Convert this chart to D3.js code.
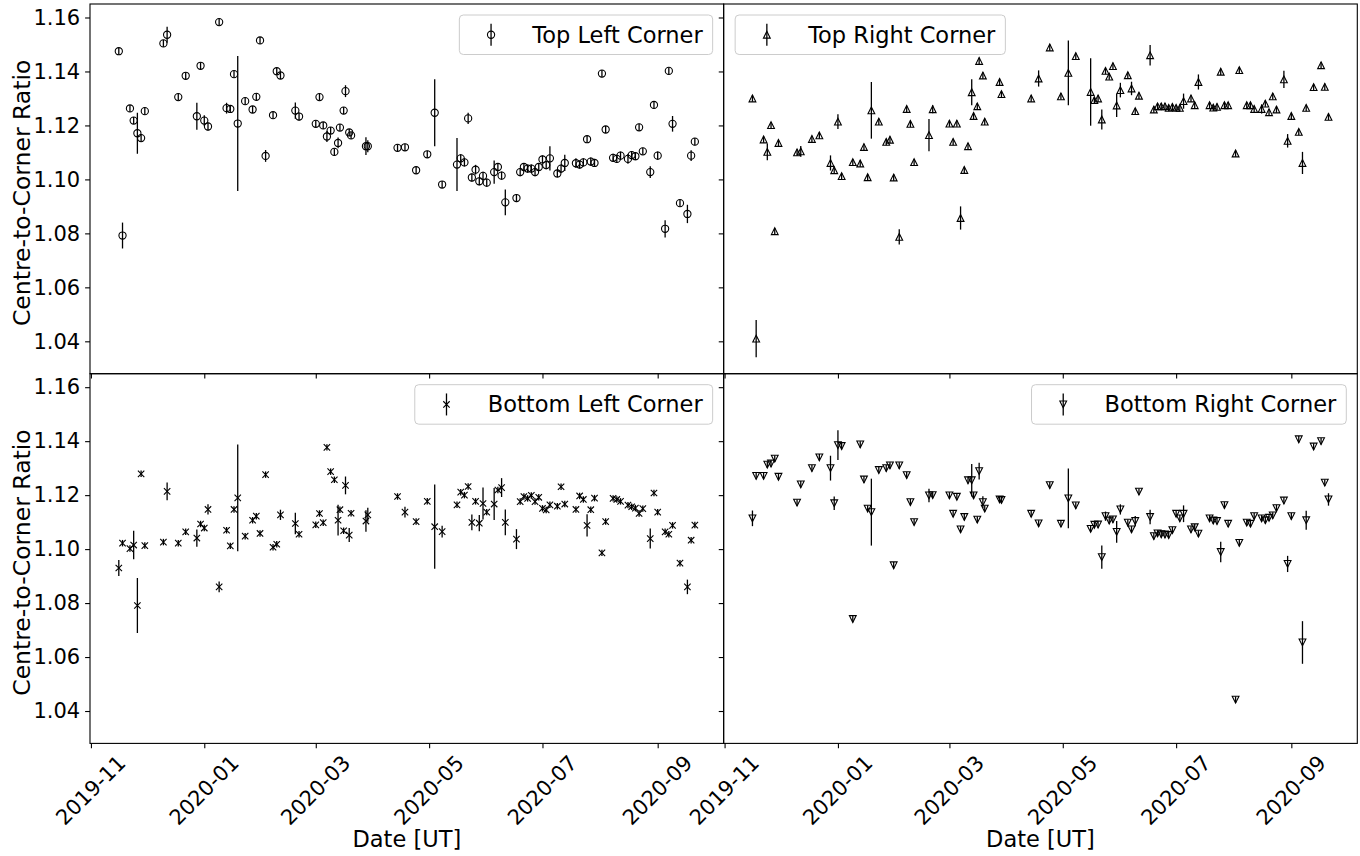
<!DOCTYPE html>
<html lang="en">
<head>
  <meta charset="UTF-8">
  <title>Centre-to-Corner Ratio</title>
  <style>
    body { margin: 0; background: #fff; }
    svg { display: block; font-family: "DejaVu Sans", sans-serif; }
  </style>
</head>
<body>
  <div id="chart"></div>

  <script src="https://d3js.org/d3.v7.min.js"></script>
  <script>
    // observation dates (shared by all four corners)
    const dates = [
      "2019-11-16", "2019-11-18", "2019-11-22", "2019-11-24", "2019-11-26", "2019-11-28", "2019-11-30", "2019-12-10", "2019-12-12", "2019-12-18",
      "2019-12-22", "2019-12-28", "2019-12-30", "2020-01-01", "2020-01-03", "2020-01-09", "2020-01-13", "2020-01-15", "2020-01-17", "2020-01-19",
      "2020-01-23", "2020-01-27", "2020-01-29", "2020-01-31", "2020-02-03", "2020-02-07", "2020-02-09", "2020-02-11", "2020-02-19", "2020-02-21",
      "2020-03-01", "2020-03-03", "2020-03-05", "2020-03-07", "2020-03-09", "2020-03-11", "2020-03-13", "2020-03-14", "2020-03-16", "2020-03-17",
      "2020-03-19", "2020-03-20", "2020-03-28", "2020-03-29", "2020-04-14", "2020-04-18", "2020-04-24", "2020-04-30", "2020-05-04", "2020-05-08",
      "2020-05-16", "2020-05-18", "2020-05-20", "2020-05-22", "2020-05-24", "2020-05-26", "2020-05-28", "2020-05-30", "2020-06-01", "2020-06-05",
      "2020-06-07", "2020-06-09", "2020-06-11", "2020-06-17", "2020-06-19", "2020-06-21", "2020-06-23", "2020-06-25", "2020-06-27", "2020-06-29",
      "2020-07-01", "2020-07-03", "2020-07-05", "2020-07-09", "2020-07-11", "2020-07-13", "2020-07-19", "2020-07-21", "2020-07-23", "2020-07-25",
      "2020-07-27", "2020-07-29", "2020-08-02", "2020-08-04", "2020-08-08", "2020-08-10", "2020-08-12", "2020-08-16", "2020-08-18", "2020-08-20",
      "2020-08-22", "2020-08-24", "2020-08-28", "2020-08-30", "2020-09-01", "2020-09-05", "2020-09-07", "2020-09-09", "2020-09-13", "2020-09-17",
      "2020-09-19", "2020-09-21"
    ];

    const topLeft = [
      1.1475, 1.0792, 1.1263, 1.1218, 1.1171, 1.1153, 1.1253, 1.1504, 1.1536, 1.1305,
      1.1384, 1.1234, 1.1421, 1.1218, 1.1196, 1.1583, 1.1264, 1.1261, 1.1390, 1.1207,
      1.1290, 1.1259, 1.1306, 1.1515, 1.1087, 1.1238, 1.1401, 1.1385, 1.1255, 1.1233,
      1.1206, 1.1305, 1.1200, 1.1159, 1.1181, 1.1102, 1.1135, 1.1192, 1.1255, 1.1327,
      1.1174, 1.1163, 1.1123, 1.1123, 1.1117, 1.1119, 1.1034, 1.1093, 1.1247, 1.0981,
      1.1055, 1.1078, 1.1063, 1.1226, 1.1007, 1.1036, 1.0993, 1.1013, 1.0988, 1.1027,
      1.1046, 1.1014, 1.0915, 1.0931, 1.1027, 1.1046, 1.1040, 1.1040, 1.1027, 1.1046,
      1.1074, 1.1053, 1.1078, 1.1022, 1.1040, 1.1061, 1.1060, 1.1055, 1.1063, 1.1149,
      1.1066, 1.1061, 1.1392, 1.1185, 1.1080, 1.1076, 1.1088, 1.1076, 1.1090, 1.1086,
      1.1193, 1.1104, 1.1027, 1.1276, 1.1088, 1.0817, 1.1402, 1.1206, 1.0912, 1.0872,
      1.1088, 1.1140
    ];
    const topLeftErr = [
      .0013, .0048, .0013, .0013, .0076, .0013, .0013, .0013, .0030, .0013,
      .0013, .0050, .0013, .0020, .0015, .0013, .0020, .0013, .0013, .0250,
      .0013, .0013, .0013, .0013, .0022, .0013, .0013, .0013, .0030, .0015,
      .0013, .0013, .0013, .0020, .0013, .0013, .0020, .0013, .0013, .0022,
      .0013, .0013, .0033, .0022, .0013, .0013, .0013, .0013, .0124, .0013,
      .0098, .0015, .0015, .0021, .0015, .0018, .0015, .0015, .0015, .0043,
      .0015, .0015, .0048, .0015, .0015, .0015, .0015, .0015, .0015, .0015,
      .0015, .0015, .0045, .0015, .0015, .0030, .0018, .0015, .0015, .0013,
      .0015, .0015, .0013, .0013, .0015, .0015, .0015, .0018, .0015, .0015,
      .0013, .0013, .0022, .0013, .0015, .0032, .0013, .0029, .0013, .0034,
      .0020, .0013
    ];

    const topRight = [
      1.1300, 1.0410, 1.1148, 1.1102, 1.1201, 1.0808, 1.1135, 1.1100, 1.1104, 1.1150,
      1.1163, 1.1061, 1.1034, 1.1214, 1.1012, 1.1064, 1.1059, 1.1120, 1.1008, 1.1256,
      1.1214, 1.1139, 1.1147, 1.1007, 1.0787, 1.1261, 1.1206, 1.1064, 1.1164, 1.1260,
      1.1207, 1.1139, 1.1207, 1.0857, 1.1035, 1.1123, 1.1323, 1.1235, 1.1271, 1.1439,
      1.1385, 1.1214, 1.1361, 1.1316, 1.1300, 1.1374, 1.1489, 1.1308, 1.1395, 1.1457,
      1.1324, 1.1294, 1.1300, 1.1222, 1.1402, 1.1381, 1.1420, 1.1274, 1.1331, 1.1386,
      1.1337, 1.1253, 1.1310, 1.1460, 1.1259, 1.1271, 1.1271, 1.1271, 1.1265, 1.1269,
      1.1265, 1.1265, 1.1290, 1.1300, 1.1275, 1.1361, 1.1275, 1.1266, 1.1269, 1.1399,
      1.1275, 1.1275, 1.1096, 1.1405, 1.1275, 1.1275, 1.1261, 1.1261, 1.1281, 1.1249,
      1.1308, 1.1259, 1.1371, 1.1143, 1.1235, 1.1176, 1.1061, 1.1265, 1.1342, 1.1423,
      1.1343, 1.1232
    ];
    const topRightErr = [
      .0012, .0069, .0012, .0031, .0012, .0012, .0012, .0012, .0020, .0012,
      .0012, .0028, .0012, .0027, .0012, .0012, .0012, .0012, .0012, .0105,
      .0012, .0012, .0012, .0012, .0028, .0012, .0012, .0012, .0060, .0015,
      .0012, .0012, .0012, .0043, .0012, .0012, .0048, .0012, .0012, .0012,
      .0012, .0012, .0012, .0012, .0012, .0030, .0012, .0012, .0120, .0012,
      .0125, .0012, .0012, .0037, .0012, .0012, .0012, .0043, .0027, .0012,
      .0025, .0012, .0012, .0038, .0012, .0012, .0012, .0012, .0012, .0012,
      .0012, .0012, .0028, .0012, .0012, .0028, .0012, .0012, .0012, .0012,
      .0012, .0012, .0012, .0012, .0012, .0012, .0012, .0017, .0012, .0012,
      .0012, .0012, .0032, .0025, .0012, .0012, .0041, .0012, .0012, .0012,
      .0012, .0012
    ];

    const bottomLeft = [
      1.0930, 1.1022, 1.1002, 1.1015, 1.0791, 1.1279, 1.1013, 1.1026, 1.1214, 1.1022,
      1.1064, 1.1041, 1.1093, 1.1078, 1.1147, 1.0860, 1.1070, 1.1012, 1.1147, 1.1190,
      1.1048, 1.1107, 1.1122, 1.1058, 1.1276, 1.1007, 1.1018, 1.1127, 1.1095, 1.1055,
      1.1090, 1.1132, 1.1098, 1.1377, 1.1287, 1.1257, 1.1107, 1.1146, 1.1068, 1.1236,
      1.1052, 1.1133, 1.1104, 1.1127, 1.1195, 1.1137, 1.1102, 1.1177, 1.1083, 1.1065,
      1.1164, 1.1211, 1.1200, 1.1232, 1.1099, 1.1177, 1.1096, 1.1169, 1.1137, 1.1167,
      1.1219, 1.1228, 1.1099, 1.1037, 1.1176, 1.1195, 1.1188, 1.1199, 1.1176, 1.1192,
      1.1151, 1.1145, 1.1164, 1.1159, 1.1231, 1.1167, 1.1147, 1.1197, 1.1184, 1.1088,
      1.1146, 1.1189, 1.0986, 1.1102, 1.1188, 1.1184, 1.1177, 1.1163, 1.1157, 1.1152,
      1.1132, 1.1150, 1.1039, 1.1208, 1.1137, 1.1064, 1.1055, 1.1088, 1.0948, 1.0860,
      1.1033, 1.1089
    ];
    const bottomLeftErr = [
      .0030, .0012, .0012, .0053, .0102, .0012, .0012, .0012, .0033, .0012,
      .0012, .0032, .0012, .0012, .0019, .0020, .0012, .0012, .0012, .0198,
      .0012, .0012, .0012, .0012, .0012, .0012, .0012, .0019, .0040, .0012,
      .0012, .0012, .0012, .0012, .0012, .0012, .0057, .0012, .0012, .0033,
      .0026, .0012, .0040, .0026, .0012, .0020, .0012, .0012, .0156, .0022,
      .0012, .0012, .0012, .0012, .0029, .0012, .0030, .0059, .0012, .0059,
      .0012, .0035, .0048, .0037, .0012, .0012, .0012, .0012, .0012, .0012,
      .0012, .0012, .0012, .0012, .0012, .0012, .0012, .0012, .0012, .0041,
      .0012, .0012, .0012, .0012, .0012, .0012, .0012, .0012, .0012, .0012,
      .0012, .0012, .0037, .0012, .0012, .0012, .0012, .0012, .0012, .0027,
      .0012, .0012
    ];

    const bottomRight = [
      1.1114, 1.1271, 1.1271, 1.1313, 1.1317, 1.1335, 1.1268, 1.1172, 1.1240, 1.1300,
      1.1340, 1.1300, 1.1170, 1.1385, 1.1382, 1.0741, 1.1388, 1.1258, 1.1150, 1.1137,
      1.1293, 1.1300, 1.1310, 1.0940, 1.1310, 1.1274, 1.1174, 1.1100, 1.1199, 1.1200,
      1.1199, 1.1131, 1.1194, 1.1073, 1.1119, 1.1255, 1.1255, 1.1199, 1.1109, 1.1289,
      1.1174, 1.1150, 1.1184, 1.1182, 1.1131, 1.1095, 1.1237, 1.1094, 1.1188, 1.1162,
      1.1075, 1.1090, 1.1091, 1.0970, 1.1122, 1.1106, 1.1110, 1.1064, 1.1147, 1.1098,
      1.1073, 1.1104, 1.1213, 1.1119, 1.1048, 1.1058, 1.1055, 1.1054, 1.1052, 1.1070,
      1.1131, 1.1114, 1.1131, 1.1073, 1.1081, 1.1057, 1.1114, 1.1106, 1.1104, 1.0989,
      1.1163, 1.1094, 1.0442, 1.1023, 1.1098, 1.1094, 1.1122, 1.1114, 1.1107, 1.1116,
      1.1125, 1.1152, 1.1180, 1.0945, 1.1122, 1.1407, 1.0654, 1.1107, 1.1380, 1.1400,
      1.1246, 1.1184
    ];
    const bottomRightErr = [
      .0029, .0012, .0012, .0012, .0012, .0012, .0012, .0012, .0012, .0012,
      .0012, .0046, .0025, .0055, .0012, .0012, .0012, .0012, .0012, .0124,
      .0012, .0012, .0012, .0012, .0012, .0012, .0012, .0012, .0025, .0012,
      .0012, .0012, .0012, .0012, .0012, .0012, .0060, .0012, .0012, .0031,
      .0022, .0012, .0012, .0012, .0012, .0012, .0012, .0012, .0111, .0012,
      .0012, .0012, .0012, .0043, .0017, .0012, .0012, .0040, .0019, .0012,
      .0012, .0019, .0012, .0027, .0012, .0012, .0012, .0012, .0012, .0012,
      .0012, .0012, .0031, .0012, .0012, .0012, .0012, .0012, .0012, .0038,
      .0012, .0012, .0012, .0012, .0012, .0012, .0012, .0012, .0012, .0012,
      .0012, .0012, .0012, .0030, .0012, .0012, .0079, .0035, .0012, .0012,
      .0012, .0023
    ];

    const yTicks = [1.04, 1.06, 1.08, 1.10, 1.12, 1.14, 1.16];
    const xDomain = ["2019-10-31T12:00", "2020-10-06T12:00"];
    const yDomain = [1.028, 1.165];

    const width = 1360;
    const height = 856;
    const colX = [[90, 723.65], [723.65, 1357.3]];
    const rowY = [[4, 373.7], [373.7, 743.4]];
    const tickFont = 21;
    const labelFont = 22.5;
    const yLabelFont = 23.5;

    const panels = [
      { label: 'Top Left Corner', values: topLeft, errors: topLeftErr, marker: 'o', col: 0, row: 0, legend: 'right' },
      { label: 'Top Right Corner', values: topRight, errors: topRightErr, marker: '^', col: 1, row: 0, legend: 'left' },
      { label: 'Bottom Left Corner', values: bottomLeft, errors: bottomLeftErr, marker: 'x', col: 0, row: 1, legend: 'right' },
      { label: 'Bottom Right Corner', values: bottomRight, errors: bottomRightErr, marker: 'v', col: 1, row: 1, legend: 'right' }
    ];

    const parseDate = d3.utcParse('%Y-%m-%d');
    const parseTime = d3.utcParse('%Y-%m-%dT%H:%M');

    function markerPath(type) {
      const s = 3.4;
      if (type === 'o') return `M${s + 0.2},0A${s + 0.2},${s + 0.2} 0 1,1 ${-s - 0.2},0A${s + 0.2},${s + 0.2} 0 1,1 ${s + 0.2},0Z`;
      if (type === '^') return `M0,${-s}L${s},${s}L${-s},${s}Z`;
      if (type === 'v') return `M0,${s}L${s},${-s}L${-s},${-s}Z`;
      return `M${-s + 0.2},${-s + 0.2}L${s - 0.2},${s - 0.2}M${-s + 0.2},${s - 0.2}L${s - 0.2},${-s + 0.2}`;
    }

    const svg = d3.select('#chart')
      .append('svg')
      .attr('width', width)
      .attr('height', height);

    svg.append('rect')
      .attr('width', width)
      .attr('height', height)
      .attr('fill', '#fff');

    panels.forEach(p => {
      const [x0, x1] = colX[p.col];
      const [y0, y1] = rowY[p.row];

      const xScale = d3.scaleUtc()
        .domain(xDomain.map(parseTime))
        .range([x0, x1]);

      const yScale = d3.scaleLinear()
        .domain(yDomain)
        .range([y1, y0]);

      const g = svg.append('g');

      // x axis
      const xAxis = g.append('g')
        .attr('transform', `translate(0, ${y1})`)
        .call(d3.axisBottom(xScale)
          .ticks(d3.utcMonth.every(2))
          .tickSize(4.9)
          .tickFormat(p.row === 1 ? d3.utcFormat('%Y-%m') : ''));
      xAxis.select('.domain').remove();
      xAxis.selectAll('line').attr('stroke', '#000').attr('stroke-width', 1.1);
      xAxis.selectAll('text')
        .attr('y', null)
        .attr('dy', null)
        .attr('fill', '#000')
        .attr('font-family', '"DejaVu Sans", sans-serif')
        .attr('font-size', tickFont)
        .attr('text-anchor', 'middle')
        .attr('dominant-baseline', 'central')
        .attr('transform', 'translate(-0.5, 47) rotate(-45)');

      // y axis
      const yAxis = g.append('g')
        .attr('transform', `translate(${x0}, 0)`)
        .call(d3.axisLeft(yScale)
          .tickValues(yTicks)
          .tickSize(4.9)
          .tickPadding(4.9)
          .tickFormat(p.col === 0 ? d3.format('.2f') : ''));
      yAxis.select('.domain').remove();
      yAxis.selectAll('line').attr('stroke', '#000').attr('stroke-width', 1.1);
      yAxis.selectAll('text')
        .attr('fill', '#000')
        .attr('font-family', '"DejaVu Sans", sans-serif')
        .attr('font-size', tickFont);

      // error bars
      g.selectAll('.err')
        .data(p.values)
        .enter()
        .append('line')
        .attr('class', 'err')
        .attr('x1', (d, i) => xScale(parseDate(dates[i])))
        .attr('x2', (d, i) => xScale(parseDate(dates[i])))
        .attr('y1', (d, i) => yScale(d - p.errors[i]))
        .attr('y2', (d, i) => yScale(d + p.errors[i]))
        .attr('stroke', '#000')
        .attr('stroke-width', 1.3);

      // markers
      g.selectAll('.pt')
        .data(p.values)
        .enter()
        .append('path')
        .attr('class', 'pt')
        .attr('transform', (d, i) => `translate(${xScale(parseDate(dates[i]))}, ${yScale(d)})`)
        .attr('d', markerPath(p.marker))
        .attr('fill', 'none')
        .attr('stroke', '#000')
        .attr('stroke-width', 1.1);

      // frame
      g.append('rect')
        .attr('x', x0)
        .attr('y', y0)
        .attr('width', x1 - x0)
        .attr('height', y1 - y0)
        .attr('fill', 'none')
        .attr('stroke', '#000')
        .attr('stroke-width', 1.1);

      // legend
      const leg = g.append('g');
      const legText = leg.append('text')
        .attr('font-size', labelFont)
        .attr('fill', '#000')
        .text(p.label);
      const textLen = legText.node().getComputedTextLength();
      const boxW = 73 + textLen + 10;
      const boxH = 39.5;
      const boxX = p.legend === 'right' ? x1 - 11 - boxW : x0 + 11.5;
      const boxY = y0 + 11;

      leg.insert('rect', 'text')
        .attr('x', boxX)
        .attr('y', boxY)
        .attr('width', boxW)
        .attr('height', boxH)
        .attr('rx', 4)
        .attr('fill', '#fff')
        .attr('fill-opacity', 0.8)
        .attr('stroke', '#cccccc')
        .attr('stroke-width', 1);

      legText
        .attr('x', boxX + 73)
        .attr('y', boxY + boxH / 2 + 8);

      const hx = boxX + 31.7;
      const hy = boxY + boxH / 2;
      leg.append('line')
        .attr('x1', hx).attr('x2', hx)
        .attr('y1', hy - 11).attr('y2', hy + 11)
        .attr('stroke', '#000')
        .attr('stroke-width', 1.3);
      leg.append('path')
        .attr('transform', `translate(${hx}, ${hy})`)
        .attr('d', markerPath(p.marker))
        .attr('fill', 'none')
        .attr('stroke', '#000')
        .attr('stroke-width', 1.1);

      // axis labels
      if (p.col === 0) {
        g.append('text')
          .attr('transform', `translate(21.5, ${(y0 + y1) / 2 + 4}) rotate(-90)`)
          .attr('text-anchor', 'middle')
          .attr('dominant-baseline', 'central')
          .attr('font-size', yLabelFont)
          .attr('fill', '#000')
          .text('Centre-to-Corner Ratio');
      }
      if (p.row === 1) {
        g.append('text')
          .attr('x', (x0 + x1) / 2)
          .attr('y', 847)
          .attr('text-anchor', 'middle')
          .attr('font-size', labelFont)
          .attr('fill', '#000')
          .text('Date [UT]');
      }
    });
  </script>
</body>
</html>
